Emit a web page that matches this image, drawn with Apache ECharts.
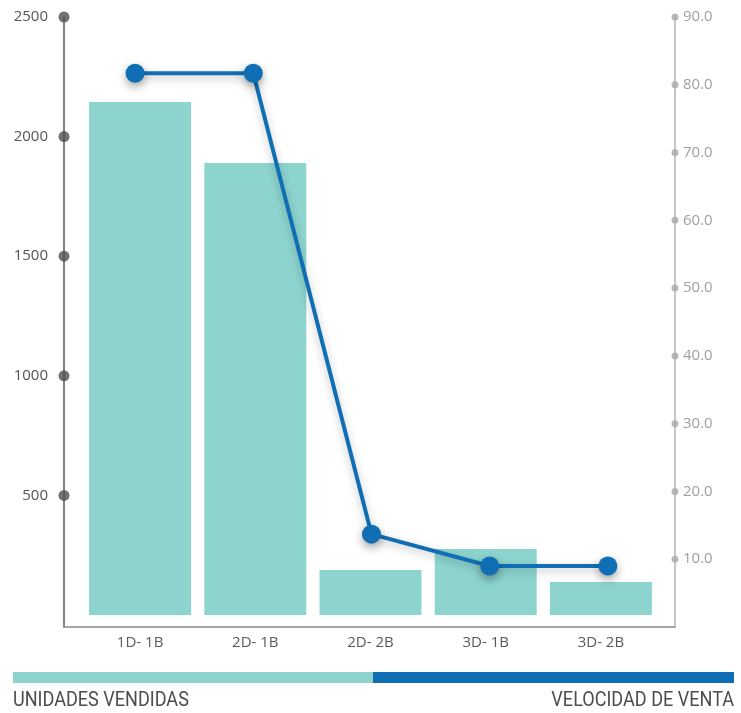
<!DOCTYPE html>
<html>
<head>
<meta charset="utf-8">
<script src="https://cdn.jsdelivr.net/npm/echarts@6/dist/echarts.min.js"></script>
<style>
  html, body { margin: 0; padding: 0; background: #ffffff; }
  #chart { width: 741px; height: 713px; }
</style>
</head>
<body>
<div id="chart"></div>
<script>
// Unit types
const categories = ['1D- 1B', '2D- 1B', '2D- 2B', '3D- 1B', '3D- 2B'];
// Units sold per type (left axis)
const unidadesVendidas = [2145, 1890, 188, 276, 138];
// Sales velocity per type (right axis)
const velocidadVenta = [81.7, 81.7, 13.7, 9.0, 9.0];
// Axis tick labels
const leftTicks = [500, 1000, 1500, 2000, 2500];
const rightTicks = [10, 20, 30, 40, 50, 60, 70, 80, 90];

const TEAL = '#8dd4cf';
const BLUE = '#106fb4';
const FONT = '"Open Sans", Lato, sans-serif';
const NARROW = 'Roboto, "Open Sans", sans-serif';

const LEFT_MIN = -50, LEFT_MAX = 2500;
const RIGHT_MIN = 0, RIGHT_MAX = 90;

const chart = echarts.init(document.getElementById('chart'), null, { renderer: 'canvas' });

chart.setOption({
  animation: false,
  backgroundColor: '#ffffff',
  grid: [
    // frame: both value axes and the baseline
    { left: 64, right: 66, top: 17, bottom: 86 },
    // bars
    { left: 82.5, right: 82.5, top: 17, bottom: 86 },
    // line
    { left: 76, right: 74, top: 17, bottom: 86 }
  ],
  xAxis: [
    {
      gridIndex: 0, type: 'value', min: 0, max: 1,
      axisLine: { show: true, onZero: false, lineStyle: { color: '#8a8a8a', width: 1.5 } },
      axisTick: { show: false }, axisLabel: { show: false }, splitLine: { show: false }
    },
    {
      gridIndex: 1, type: 'category', data: categories,
      axisLine: { show: false, onZero: false }, axisTick: { show: false },
      axisLabel: { color: '#5a5a5a', fontFamily: FONT, fontSize: 15, margin: 8 }
    },
    {
      gridIndex: 2, type: 'category', data: categories, show: false
    }
  ],
  yAxis: [
    {
      gridIndex: 0, type: 'value', position: 'left', min: LEFT_MIN, max: LEFT_MAX,
      axisLine: { show: true, lineStyle: { color: '#5a5a5a', width: 1.5 } },
      axisTick: { show: false }, splitLine: { show: false },
      axisLabel: {
        customValues: leftTicks, color: '#555555', fontFamily: FONT,
        fontSize: 15, margin: 16, formatter: v => String(v)
      }
    },
    {
      gridIndex: 0, type: 'value', position: 'right', min: RIGHT_MIN, max: RIGHT_MAX,
      axisLine: { show: true, lineStyle: { color: '#b3b3b3', width: 1.5 } },
      axisTick: { show: false }, splitLine: { show: false },
      axisLabel: {
        customValues: rightTicks, color: '#a0a0a0', fontFamily: FONT,
        fontSize: 15, margin: 8,
        formatter: v => Number(v).toFixed(1)
      }
    },
    { gridIndex: 1, type: 'value', min: LEFT_MIN, max: LEFT_MAX, show: false },
    { gridIndex: 2, type: 'value', min: RIGHT_MIN, max: RIGHT_MAX, show: false }
  ],
  series: [
    {
      name: 'UNIDADES VENDIDAS', type: 'bar',
      xAxisIndex: 1, yAxisIndex: 2,
      data: unidadesVendidas,
      barCategoryGap: '11.5%',
      itemStyle: { color: TEAL }
    },
    {
      name: 'VELOCIDAD DE VENTA', type: 'line',
      xAxisIndex: 2, yAxisIndex: 3,
      data: velocidadVenta,
      symbol: 'circle', symbolSize: 19,
      lineStyle: {
        color: BLUE, width: 4,
        shadowColor: 'rgba(0,0,0,0.25)', shadowBlur: 8, shadowOffsetY: 3
      },
      itemStyle: {
        color: BLUE,
        shadowColor: 'rgba(0,0,0,0.35)', shadowBlur: 10, shadowOffsetY: 4
      },
      z: 5
    },
    // tick dots on the left axis
    {
      type: 'scatter', xAxisIndex: 0, yAxisIndex: 0, clip: false,
      data: leftTicks.map(v => [0, v]),
      symbol: 'circle', symbolSize: 11,
      itemStyle: { color: '#4f4f4f' }, silent: true, z: 6
    },
    // tick dots on the right axis
    {
      type: 'scatter', xAxisIndex: 0, yAxisIndex: 1, clip: false,
      data: rightTicks.map(v => [1, v]),
      symbol: 'circle', symbolSize: 7,
      itemStyle: { color: '#a8a8a8' }, silent: true, z: 6
    }
  ],
  graphic: [
    { type: 'rect', left: 13, top: 672, shape: { width: 360, height: 11 }, style: { fill: TEAL } },
    { type: 'rect', left: 373, top: 672, shape: { width: 361, height: 11 }, style: { fill: BLUE } },
    {
      type: 'text', x: 13, y: 690, scaleX: 0.86,
      style: { text: 'UNIDADES VENDIDAS', fill: '#4d4d4d', font: '21px ' + NARROW, align: 'left', verticalAlign: 'top' }
    },
    {
      type: 'text', x: 734, y: 690, scaleX: 0.86,
      style: { text: 'VELOCIDAD DE VENTA', fill: '#4d4d4d', font: '21px ' + NARROW, align: 'right', verticalAlign: 'top' }
    }
  ]
});
</script>
</body>
</html>
